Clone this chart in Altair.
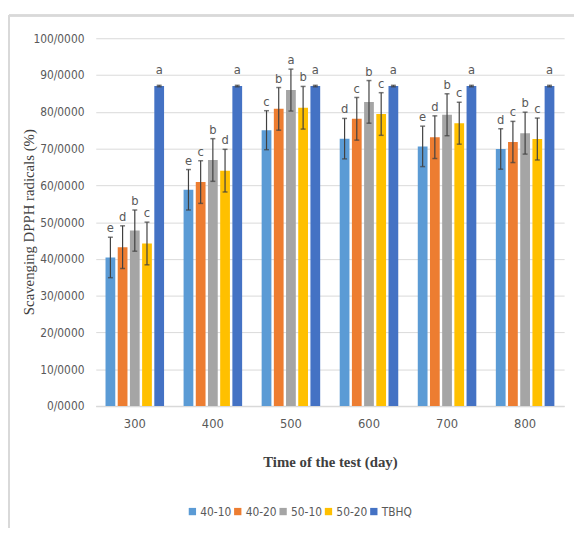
import altair as alt
import pandas as pd

days = ["300", "400", "500", "600", "700", "800"]
series = ["40-10", "40-20", "50-10", "50-20", "TBHQ"]
colors = ["#5B9BD5", "#ED7D31", "#A5A5A5", "#FFC000", "#4472C4"]

means = {
    "40-10": [40.4, 58.8, 75.0, 72.7, 70.6, 69.9],
    "40-20": [43.2, 60.9, 80.8, 78.1, 73.1, 71.8],
    "50-10": [47.7, 66.9, 85.9, 82.7, 79.2, 74.2],
    "50-20": [44.2, 64.0, 81.1, 79.4, 76.9, 72.6],
    "TBHQ":  [87.0, 87.0, 87.0, 87.0, 87.0, 87.0],
}
errs = {
    "40-10": [5.5, 5.5, 5.3, 5.5, 5.5, 5.5],
    "40-20": [5.8, 5.8, 5.8, 5.8, 5.8, 5.6],
    "50-10": [5.6, 5.8, 5.7, 5.8, 5.7, 5.7],
    "50-20": [5.8, 5.8, 5.8, 5.8, 5.7, 5.7],
    "TBHQ":  [0.2, 0.2, 0.2, 0.2, 0.2, 0.2],
}
letters = {
    "40-10": ["e", "e", "c", "d", "e", "d"],
    "40-20": ["d", "c", "b", "c", "d", "c"],
    "50-10": ["b", "b", "a", "b", "b", "b"],
    "50-20": ["c", "d", "b", "c", "c", "c"],
    "TBHQ":  ["a", "a", "a", "a", "a", "a"],
}

rows = []
for s in series:
    for i, d in enumerate(days):
        m = means[s][i]
        e = errs[s][i]
        rows.append({"day": d, "series": s, "mean": m, "lo": m - e, "hi": m + e,
                     "letter": letters[s][i]})
df = pd.DataFrame(rows)

tick_font = "DejaVu Sans Condensed, Liberation Sans Narrow, Open Sans, sans-serif"
serif = "Liberation Serif, Times New Roman, serif"
yticks = list(range(0, 101, 10))

y_scale = alt.Scale(domain=[0, 100], nice=False)
y_axis = alt.Axis(title="Scavenging  DPPH radicals (%)", values=yticks, tickCount=11,
                  labelExpr="datum.value + '/0000'", grid=True, gridColor="#d9d9d9",
                  domain=False, ticks=False, labelFont=tick_font, labelFontSize=12,
                  labelColor="#595959", labelPadding=12, labelOverlap=False,
                  titleFont=serif, titleFontSize=15, titleFontWeight="normal",
                  titleColor="#404040", titleX=-68, titleY=186, titleAngle=270,
                  titleBaseline="middle", titleAlign="center")

base = alt.Chart(df).encode(
    x=alt.X("day:N", sort=days,
            scale=alt.Scale(paddingInner=0.25, paddingOuter=0.125),
            axis=alt.Axis(title="Time of the test (day)", labelAngle=0, ticks=False,
                          domainColor="#d9d9d9", domainWidth=1.5,
                          labelFont=tick_font, labelFontSize=13, labelColor="#595959",
                          labelPadding=12, titleFont=serif, titleFontSize=15,
                          titleFontWeight="bold", titleColor="#404040", titlePadding=24)),
    xOffset=alt.XOffset("series:N", sort=series,
                        scale=alt.Scale(domain=series, paddingInner=0.2)),
)

bars = base.mark_bar().encode(
    y=alt.Y("mean:Q", scale=y_scale, axis=y_axis),
    color=alt.Color("series:N", sort=series,
                    scale=alt.Scale(domain=series, range=colors),
                    legend=alt.Legend(title=None, orient="none", direction="horizontal",
                                      legendX=92, legendY=474, symbolType="square",
                                      symbolSize=55, symbolStrokeWidth=0,
                                      labelFont=tick_font, labelFontSize=12,
                                      labelColor="#595959", columnPadding=0,
                                      labelOffset=2)),
)

rules = base.mark_rule(color="#404040", strokeWidth=1.2).encode(
    y=alt.Y("lo:Q", scale=y_scale, axis=y_axis), y2="hi:Q")
caps_hi = base.mark_tick(color="#404040", thickness=1.5, size=5).encode(
    y=alt.Y("hi:Q", scale=y_scale, axis=y_axis))
caps_lo = base.mark_tick(color="#404040", thickness=1.5, size=5).encode(
    y=alt.Y("lo:Q", scale=y_scale, axis=y_axis))
labels = base.mark_text(dy=-9, fontSize=13, font=tick_font, color="#595959").encode(
    y=alt.Y("hi:Q", scale=y_scale, axis=y_axis), text="letter:N"
).transform_filter(alt.datum.series != "TBHQ")
labels_t = base.mark_text(dy=-15, fontSize=13, font=tick_font, color="#595959").encode(
    y=alt.Y("hi:Q", scale=y_scale, axis=y_axis), text="letter:N"
).transform_filter(alt.datum.series == "TBHQ")

frame_top = alt.Chart(df).mark_rule(color="#d9d9d9", strokeWidth=1.5).encode(
    x=alt.value(-88), x2=alt.value(485), y=alt.value(-23))
frame_left = alt.Chart(df).mark_rule(color="#d9d9d9", strokeWidth=1.5).encode(
    x=alt.value(-88), y=alt.value(-23), y2=alt.value(500))

chart = alt.layer(bars, rules, caps_hi, caps_lo, labels, labels_t,
                  frame_top, frame_left).properties(
    width=475, height=373,
    autosize=alt.AutoSizeParams(type="none"),
    padding={"left": 89, "top": 27, "right": 10, "bottom": 120},
).configure_view(stroke=None)

chart.save("out.html", embed_options={"renderer": "svg", "actions": False})
